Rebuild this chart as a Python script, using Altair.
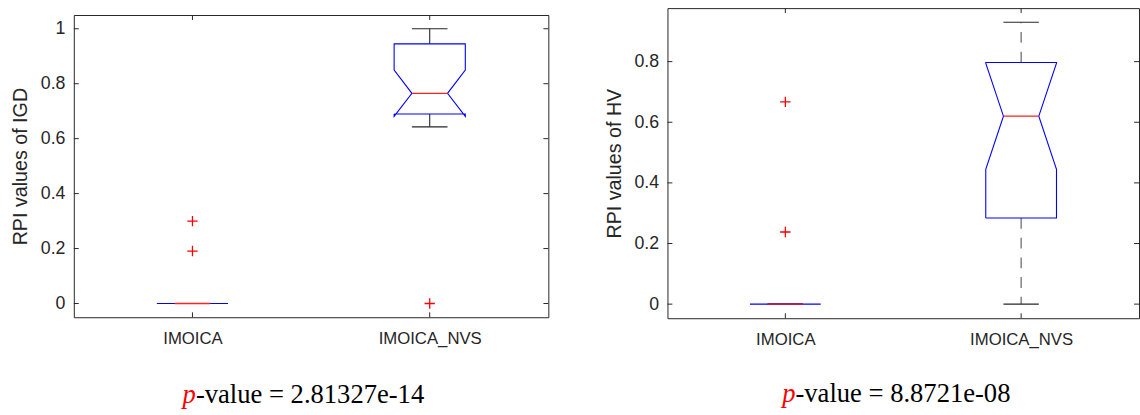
import altair as alt
import pandas as pd

# ---------------- data ----------------
categories = ["IMOICA", "IMOICA_NVS"]
cat_pos = [1, 2]

# IGD panel (box statistics per category)
igd_whisker_low = [0.0, 0.643]
igd_q1 = [0.0, 0.690]
igd_notch_low = [0.0, 0.681]
igd_median = [0.0, 0.765]
igd_notch_high = [0.0, 0.850]
igd_q3 = [0.0, 0.945]
igd_whisker_high = [0.0, 1.000]
igd_outlier_group = ["IMOICA", "IMOICA", "IMOICA_NVS"]
igd_outlier_value = [0.300, 0.191, 0.0]
igd_ticks = [0, 0.2, 0.4, 0.6, 0.8, 1]
igd_domain = [-0.05, 1.05]
igd_pvalue = "2.81327e-14"

# HV panel
hv_whisker_low = [0.0, 0.0]
hv_q1 = [0.0, 0.284]
hv_notch_low = [0.0, 0.445]
hv_median = [0.0, 0.620]
hv_notch_high = [0.0, 0.795]
hv_q3 = [0.0, 0.797]
hv_whisker_high = [0.0, 0.930]
hv_outlier_group = ["IMOICA", "IMOICA"]
hv_outlier_value = [0.667, 0.238]
hv_ticks = [0, 0.2, 0.4, 0.6, 0.8]
hv_domain = [-0.0465, 0.9765]
hv_pvalue = "8.8721e-08"

# ---------------- style ----------------
BOX_HALF = 0.15
NOTCH_HALF = 0.075
INK = "#262626"
FONT = "Liberation Sans"
SERIF = "Liberation Serif"
PLUS = "M-1,0L1,0M0,-1L0,1"


def panel(stats, outl_g, outl_v, ticks, ydomain, ytitle, pvalue,
          W, H, dashed, text_x0, text_y):
    wl, q1, nl, med, nh, q3, wh = stats
    pos = dict(zip(categories, cat_pos))
    label_expr = " : ".join(
        [f"datum.value == {p} ? '{c}'" for c, p in zip(categories[:-1], cat_pos[:-1])]
        + [f"'{categories[-1]}'"])

    xscale = alt.Scale(domain=[0.5, 2.5], nice=False, zero=False)
    yscale = alt.Scale(domain=ydomain, nice=False, zero=False)
    xaxis = alt.Axis(values=cat_pos, labelExpr=label_expr, title=None,
                     ticks=False, tickSize=0, domain=False, grid=False,
                     labelFont=FONT, labelFontSize=17, labelColor=INK,
                     labelPadding=14)
    yaxis = alt.Axis(values=ticks, labelExpr="'' + datum.value", title=ytitle,
                     ticks=False, tickSize=0, domain=False, grid=False,
                     labelFont=FONT, labelFontSize=18, labelColor=INK,
                     labelPadding=9, titleFont=FONT, titleFontSize=20,
                     titleFontWeight="normal", titleColor=INK, titlePadding=10)

    def X(f):
        return alt.X(f, type="quantitative", scale=xscale, axis=xaxis)

    def Y(f):
        return alt.Y(f, type="quantitative", scale=yscale, axis=yaxis)

    box = pd.DataFrame({"cat": categories, "p": cat_pos, "wl": wl, "q1": q1,
                        "med": med, "q3": q3, "wh": wh})
    box["l"] = box["p"] - NOTCH_HALF
    box["r"] = box["p"] + NOTCH_HALF

    # notched outline
    rows = []
    for i, c in enumerate(categories):
        p = cat_pos[i]
        pts = [(p - BOX_HALF, q1[i]), (p - BOX_HALF, nl[i]), (p - NOTCH_HALF, med[i]),
               (p - BOX_HALF, nh[i]), (p - BOX_HALF, q3[i]), (p + BOX_HALF, q3[i]),
               (p + BOX_HALF, nh[i]), (p + NOTCH_HALF, med[i]), (p + BOX_HALF, nl[i]),
               (p + BOX_HALF, q1[i]), (p - BOX_HALF, q1[i])]
        for k, (x, y) in enumerate(pts):
            rows.append({"cat": c, "k": k, "x": x, "y": y})
    outline = pd.DataFrame(rows)

    outl = pd.DataFrame({"p": [pos[g] for g in outl_g], "v": outl_v})
    tdf = pd.DataFrame({"t": ticks})
    cdf = pd.DataFrame({"c": cat_pos})

    base = alt.Chart(box)
    wkw = dict(color="#555555", strokeWidth=1.1)
    if dashed:
        wkw["strokeDash"] = [11, 9]
    else:
        wkw["color"] = INK
    whisk_up = base.mark_rule(**wkw).encode(x=X("p"), y=Y("q3"), y2="wh")
    whisk_dn = base.mark_rule(**wkw).encode(x=X("p"), y=Y("q1"), y2="wl")
    cap_up = base.mark_rule(color=INK, strokeWidth=1.1).encode(x=X("l"), x2="r", y=Y("wh"))
    cap_dn = base.mark_rule(color=INK, strokeWidth=1.1).encode(x=X("l"), x2="r", y=Y("wl"))
    shape = alt.Chart(outline).mark_line(color="#0000ff", strokeWidth=1.1).encode(
        x=X("x"), y=Y("y"), detail="cat:N", order="k:Q")
    median = base.mark_rule(color="#ff2020", strokeWidth=1.3).encode(
        x=X("l"), x2="r", y=Y("med"))
    outliers = alt.Chart(outl).mark_point(shape=PLUS, size=110, color="#ff0000",
                                          strokeWidth=1.3, filled=False, opacity=1).encode(
        x=X("p"), y=Y("v"))

    tk = dict(color=INK, strokeWidth=1)
    tl = alt.Chart(tdf).mark_rule(**tk).encode(y=Y("t"), x=alt.value(0), x2=alt.value(5))
    tr = alt.Chart(tdf).mark_rule(**tk).encode(y=Y("t"), x=alt.value(W - 5), x2=alt.value(W))
    tb = alt.Chart(cdf).mark_rule(**tk).encode(x=X("c"), y=alt.value(H - 5), y2=alt.value(H))
    tt = alt.Chart(cdf).mark_rule(**tk).encode(x=X("c"), y=alt.value(0), y2=alt.value(5))

    ptxt = pd.DataFrame({"p": ["p"], "rest": ["-value = " + pvalue]})
    t1 = alt.Chart(ptxt).mark_text(font=SERIF, fontStyle="italic", fontSize=27,
                                   color="#ff0000", align="right",
                                   baseline="alphabetic").encode(
        x=alt.value(text_x0), y=alt.value(text_y), text="p:N")
    t2 = alt.Chart(ptxt).mark_text(font=SERIF, fontSize=27, color="#000000",
                                   align="left", baseline="alphabetic").encode(
        x=alt.value(text_x0), y=alt.value(text_y), text="rest:N")

    layers = [whisk_up, whisk_dn, cap_up, cap_dn, shape, median, outliers,
              tl, tr, tb, tt, t1, t2]
    return alt.layer(*layers).properties(width=W, height=H)


left = panel([igd_whisker_low, igd_q1, igd_notch_low, igd_median, igd_notch_high,
              igd_q3, igd_whisker_high],
             igd_outlier_group, igd_outlier_value, igd_ticks, igd_domain,
             "RPI values of IGD", igd_pvalue, W=482, H=307, dashed=False,
             text_x0=124, text_y=394)
right = panel([hv_whisker_low, hv_q1, hv_notch_low, hv_median, hv_notch_high,
               hv_q3, hv_whisker_high],
              hv_outlier_group, hv_outlier_value, hv_ticks, hv_domain,
              "RPI values of HV", hv_pvalue, W=479, H=315, dashed=True,
              text_x0=130, text_y=400)

# small invisible strip that lowers the left panel a few pixels
spacer = alt.Chart(pd.DataFrame({"a": [0]})).mark_rule(
    color="white", opacity=0).encode(y=alt.value(0)).properties(
    width=482, height=1, view=alt.ViewConfig(strokeOpacity=0))

left_col = alt.vconcat(spacer, left, spacing=5)

chart = alt.hconcat(left_col, right, spacing=55).properties(
    padding={"left": 10, "top": 4, "right": 0, "bottom": 0},
    background="white",
).configure_view(stroke=INK, strokeWidth=1)

chart.save("out.html", embed_options={"renderer": "svg", "actions": False})
